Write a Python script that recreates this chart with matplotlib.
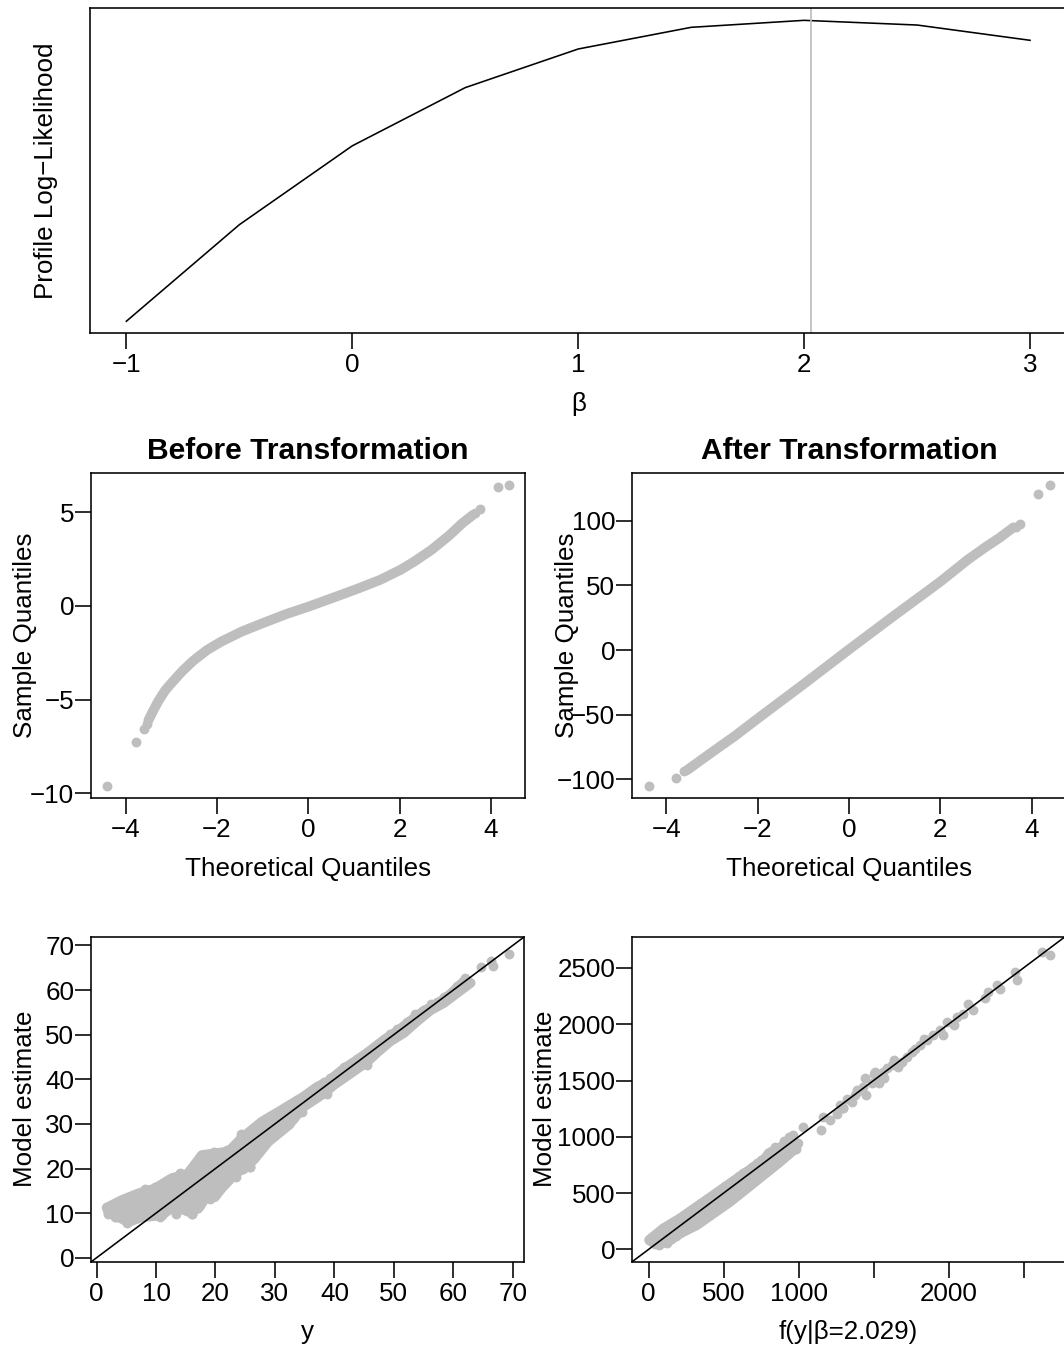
import matplotlib
matplotlib.use("Agg")
import matplotlib.pyplot as plt

# ---------------- data ----------------
beta_grid = [-1.0, -0.5, 0.0, 0.5, 1.0, 1.5, 2.0, 2.5, 3.0]
profile_ll = [-1501.4, -1404.7, -1325.7, -1267.4, -1228.7, -1207.0, -1200.0, -1204.7, -1220.0]
beta_hat = 2.029

# QQ before transformation: dense central run + isolated tail points
qq_before_band_x = [-3.50, -3.39, -3.28, -3.13, -2.97, -2.75, -2.52, -2.22, -1.91, -1.46, -1.01,
                    -0.48, 0.0, 0.51, 1.11, 1.57, 2.02, 2.32, 2.70, 3.08, 3.38, 3.61]
qq_before_band_y = [-6.11, -5.57, -5.07, -4.50, -4.05, -3.46, -2.93, -2.36, -1.91, -1.37, -0.93,
                    -0.43, -0.04, 0.41, 0.95, 1.39, 1.93, 2.37, 3.00, 3.75, 4.43, 4.87]
qq_before_pts_x = [-4.40, -3.78, -3.60, -3.53, 3.66, 3.76, 4.16, 4.40]
qq_before_pts_y = [-9.59, -7.27, -6.55, -6.30, 4.95, 5.18, 6.37, 6.48]

# QQ after transformation
qq_after_band_x = [-3.55, -3.0, -2.5, -2.0, -1.0, 0.0, 1.0, 2.0, 2.6, 3.0, 3.3, 3.6]
qq_after_band_y = [-93.0, -79.0, -66.5, -53.0, -26.5, 0.5, 27.0, 53.0, 70.0, 80.0, 87.0, 95.0]
qq_after_pts_x = [-4.39, -3.78, -3.61, 3.66, 3.75, 4.14, 4.40]
qq_after_pts_y = [-105.0, -99.2, -94.0, 95.5, 97.4, 121.0, 127.6]

# observed y vs model estimate (original scale): individual points
obs_y = [1.7, 2.0, 3.1, 3.9, 4.5, 5.3, 5.3, 5.9, 7.0, 6.7, 8.1, 8.4, 9.0, 9.8, 10.4, 10.7, 11.5, 12.3,
         12.9, 13.5, 14.0, 14.9, 15.4, 16.0, 15.7, 16.5, 17.7, 18.0, 18.5, 19.1, 19.6, 19.9, 20.5, 20.8,
         22.2, 22.2, 23.4, 24.4, 25.8, 24.4, 25.5, 26.6, 27.8, 28.9, 29.5, 31.1, 32.3, 33.4, 34.8, 34.5,
         1.9, 3.2, 4.1, 5.2, 5.5, 7.0, 8.1, 9.3, 9.9, 11.0, 11.6, 12.8, 13.4, 14.0, 15.7, 16.0, 17.4,
         18.6, 19.1, 18.6, 19.7, 20.0, 20.3, 22.0, 24.3, 24.3, 25.8, 27.8, 29.3, 29.0, 30.2, 29.6, 27.8,
         26.7, 25.5, 23.8, 23.2, 22.0, 21.5, 20.9, 24.3, 24.6, 22.6, 22.3, 20.3, 33.0, 31.9, 31.3,
         69.3, 66.3, 66.6, 64.7, 61.9, 62.3, 60.6, 59.5, 58.4, 57.3, 56.2, 55.0, 54.5, 53.6, 52.2, 50.5,
         49.4, 48.3, 47.7, 46.9, 46.1, 45.0, 43.8, 44.1, 45.5, 42.4, 41.6, 41.0, 39.3, 38.2, 37.6, 37.1,
         38.8, 35.8, 34.8, 33.7, 34.3, 32.9, 33.1]
est_y = [11.4, 10.3, 9.2, 11.0, 12.1, 12.9, 8.0, 9.7, 13.7, 9.2, 15.2, 11.4, 9.9, 15.5, 12.1, 9.2, 16.6, 13.7,
         17.8, 14.9, 18.9, 15.9, 18.9, 9.9, 12.1, 13.7, 22.6, 17.4, 15.2, 13.5, 23.0, 18.1, 15.2, 20.3,
         22.6, 19.2, 18.1, 20.3, 20.3, 27.1, 26.3, 24.1, 29.3, 27.8, 30.8, 31.5, 30.0, 33.8, 35.7, 32.7,
         9.9, 9.2, 10.7, 7.7, 12.9, 9.2, 15.5, 12.5, 15.8, 9.6, 16.6, 17.8, 9.9, 18.5, 19.6, 9.9, 11.8,
         15.8, 13.2, 22.6, 23.7, 17.3, 15.1, 23.0, 27.8, 20.0, 20.4, 26.3, 30.8, 31.6, 30.8, 29.0, 28.6,
         26.3, 27.5, 25.9, 24.1, 24.1, 23.0, 21.9, 21.9, 20.0, 20.4, 18.5, 17.4, 32.7, 31.6, 32.7,
         68.0, 66.6, 65.3, 65.2, 62.7, 61.5, 60.8, 59.2, 58.4, 57.3, 56.8, 55.5, 54.4, 54.7, 52.8, 51.3,
         50.2, 48.7, 48.0, 47.2, 46.5, 44.6, 44.6, 43.1, 43.1, 42.4, 42.8, 41.3, 40.2, 39.4, 38.7, 37.6,
         36.8, 36.4, 36.0, 35.3, 33.8, 33.1, 31.2]
# outline of the solid, overlapping part of that cloud (upper side left->right, lower side right->left)
cloud_y_x = [1.7, 4.2, 7.0, 9.8, 12.6, 15.4, 17.7, 19.9, 22.2, 24.4, 27.8, 31.1, 34.8, 37.1, 38.8,
             41.6, 43.8, 46.1, 48.3, 50.6, 52.8, 55.0, 57.3, 59.5, 61.8,
             62.9, 60.6, 58.4, 56.2, 53.9, 51.7, 49.4, 47.2, 45.5, 42.7, 39.9, 38.2, 34.8, 32.3, 28.9,
             26.6, 25.5, 23.3, 21.0, 19.9, 18.2, 17.1, 15.4, 13.2, 10.9, 7.6, 5.3, 2.0]
cloud_y_est = [11.2, 12.9, 14.4, 15.5, 17.8, 18.9, 23.0, 23.4, 23.8, 26.8, 30.5, 33.1, 36.1, 38.3, 39.4,
               42.4, 44.3, 46.5, 48.8, 50.8, 53.1, 55.3, 56.9, 59.1, 62.0,
               61.6, 59.3, 57.1, 55.5, 53.0, 50.4, 48.5, 46.0, 43.9, 41.3, 38.7, 36.8, 33.8, 29.7, 26.0,
               22.2, 20.7, 18.8, 15.5, 13.6, 13.2, 11.0, 10.3, 11.7, 9.5, 9.1, 8.0, 10.3]

# transformed y vs model estimate: individual points
fy = [5, 30, 60, 90, 120, 150, 180, 210, 240, 270, 300, 330, 360, 390, 420, 450, 480, 510, 540, 570,
      600, 630, 660, 690, 720, 750, 780, 800, 830, 860, 900, 940, 960,
      40, 100, 160, 220, 280, 340, 400, 460, 520, 580, 640, 700, 760, 820, 880,
      70, 120, 150, 180, 210, 240, 270, 300, 330, 360, 390, 420, 450, 480, 510, 540, 570, 600, 630,
      660, 690, 720, 750, 780, 810, 840, 870, 900, 930, 960, 975,
      2677, 2621, 2443, 2454, 2343, 2321, 2266, 2244, 2166, 2132, 2099, 2055, 2033, 1988, 1943, 1966,
      1899, 1855, 1833, 1810, 1777, 1755, 1721, 1688, 1666, 1633, 1621, 1588, 1566, 1510, 1543, 1488,
      1443, 1432, 1388, 1377, 1321, 1299, 1277,
      936, 981, 1027, 1151, 1208, 1162, 1254, 1299, 1356, 1390, 1447, 1503, 1537, 1571, 845, 799]
est_fy = [85, 110, 130, 165, 195, 225, 250, 275, 300, 335, 360, 390, 415, 445, 470, 500, 530, 565, 590, 620,
          650, 675, 700, 735, 765, 790, 820, 850, 870, 905, 960, 1000, 1020,
          45, 110, 165, 230, 285, 350, 410, 470, 530, 590, 650, 705, 770, 830, 880,
          40, 60, 90, 120, 150, 175, 205, 230, 260, 290, 320, 350, 380, 400, 430, 460, 490, 520, 550,
          580, 610, 640, 665, 690, 720, 760, 790, 820, 850, 880, 900,
          2613, 2642, 2465, 2391, 2317, 2347, 2288, 2229, 2125, 2178, 2095, 2066, 1991, 2021, 1946, 1902,
          1902, 1857, 1872, 1813, 1783, 1754, 1710, 1665, 1621, 1680, 1636, 1607, 1577, 1577, 1533, 1474,
          1518, 1444, 1414, 1370, 1340, 1252, 1281,
          1000, 896, 1089, 1060, 1148, 1178, 1207, 1252, 1311, 1400, 1370, 1562, 1474, 1518, 911, 852]
# outline of the solid band of overlapping points
band_fy_x = [5, 99, 210, 321, 432, 543, 655, 765, 810, 877, 930,
             999, 966, 877, 765, 655, 543, 432, 321, 210, 121, 40]
band_fy_est = [85, 187, 276, 379, 482, 586, 689, 793, 861, 903, 960,
               941, 881, 778, 659, 541, 422, 319, 215, 142, 61, 50]

fy_ticks = [0, 500, 1000, 1500, 2000, 2500]
fy_ticklabels = ["0", "500", "1000", "", "2000", ""]

# ---------------- style ----------------
W, H = 1064, 1349
DPI = 100
GREY = "#BEBEBE"
FS = 18.7
LW = 1.15
MS = 7.1          # marker diameter in points
FONT = ["Liberation Sans", "DejaVu Sans"]
plt.rcParams["font.family"] = FONT
plt.rcParams["axes.unicode_minus"] = True

fig = plt.figure(figsize=(W / DPI, H / DPI), dpi=DPI)


def px_axes(l, t, r, b):
    ax = fig.add_axes([l / W, 1 - b / H, (r - l) / W, (b - t) / H])
    for s in ax.spines.values():
        s.set_linewidth(LW)
        s.set_color("black")
    ax.tick_params(direction="out", length=15.6 * 72 / DPI, width=LW, labelsize=FS,
                   color="black", labelcolor="black")
    ax.tick_params(axis="x", pad=4.4 * 72 / DPI)
    ax.tick_params(axis="y", pad=1.4 * 72 / DPI)
    return ax


def xlabel_px(x, y, s):
    fig.text(x / W, 1 - y / H, s, ha="center", va="baseline", fontsize=FS)


def ylabel_px(x, y, s):
    fig.text(x / W, 1 - y / H, s, ha="center", va="baseline", rotation=90,
             rotation_mode="anchor", fontsize=FS)


def band(ax, xs, ys):
    ax.fill(xs, ys, facecolor=GREY, edgecolor=GREY, linewidth=MS, joinstyle="round", zorder=2)


# ---- top: profile log-likelihood ----
box = (90.2, 8.3, 1066.2, 333.3)
ax0 = px_axes(*box)
ax0.plot(beta_grid, profile_ll, color="black", lw=LW)
ax0.axvline(beta_hat, color=GREY, lw=LW * 1.1)
ax0.set_xlim(-1.16, 3.16)
rng = max(profile_ll) - min(profile_ll)
ax0.set_ylim(min(profile_ll) - 0.04 * rng, max(profile_ll) + 0.04 * rng)
ax0.set_xticks([-1, 0, 1, 2, 3])
ax0.set_yticks([])
xlabel_px((box[0] + box[2]) / 2, box[3] + 78, "β")
ylabel_px(52.6, (box[1] + box[3]) / 2, "Profile Log\u2212Likelihood")

# ---- middle left: QQ before ----
box = (91.3, 472.7, 525.1, 797.7)
ax1 = px_axes(*box)
ax1.plot(qq_before_band_x, qq_before_band_y, color=GREY, lw=MS, solid_capstyle="round",
         solid_joinstyle="round")
ax1.scatter(qq_before_pts_x, qq_before_pts_y, s=MS ** 2, color=GREY, linewidths=0)
ax1.set_xlim(-4.75, 4.75)
ax1.set_ylim(-10.24, 7.12)
ax1.set_xticks([-4, -2, 0, 2, 4])
ax1.set_yticks([-10, -5, 0, 5])
fig.text((box[0] + box[2]) / 2 / W, 1 - 459 / H, "Before Transformation", ha="center",
         va="baseline", fontsize=21.6, fontweight="bold")
xlabel_px((box[0] + box[2]) / 2, box[3] + 78, "Theoretical Quantiles")
ylabel_px(32.4, (box[1] + box[3]) / 2, "Sample Quantiles")

# ---- middle right: QQ after ----
box = (632.2, 472.7, 1066.0, 797.7)
ax2 = px_axes(*box)
ax2.plot(qq_after_band_x, qq_after_band_y, color=GREY, lw=MS, solid_capstyle="round",
         solid_joinstyle="round")
ax2.scatter(qq_after_pts_x, qq_after_pts_y, s=MS ** 2, color=GREY, linewidths=0)
ax2.set_xlim(-4.75, 4.75)
ax2.set_ylim(-114.3, 137.3)
ax2.set_xticks([-4, -2, 0, 2, 4])
ax2.set_yticks([-100, -50, 0, 50, 100])
fig.text((box[0] + box[2]) / 2 / W, 1 - 459 / H, "After Transformation", ha="center",
         va="baseline", fontsize=21.6, fontweight="bold")
xlabel_px((box[0] + box[2]) / 2, box[3] + 78, "Theoretical Quantiles")
ylabel_px(574.0, (box[1] + box[3]) / 2, "Sample Quantiles")

# ---- bottom left: y vs estimate ----
box = (91.3, 936.7, 524.4, 1261.7)
ax3 = px_axes(*box)
band(ax3, cloud_y_x, cloud_y_est)
ax3.scatter(obs_y, est_y, s=MS ** 2, color=GREY, linewidths=0, zorder=3)
ax3.axline((0, 0), slope=1, color="black", lw=LW, zorder=4)
ax3.set_xlim(-0.88, 71.95)
ax3.set_ylim(-0.88, 71.95)
ax3.set_xticks(range(0, 71, 10))
ax3.set_yticks(range(0, 71, 10))
xlabel_px((box[0] + box[2]) / 2, box[3] + 77, "y")
ylabel_px(32.4, (box[1] + box[3]) / 2, "Model estimate")

# ---- bottom right: f(y) vs estimate ----
box = (632.2, 936.7, 1065.1, 1261.7)
ax4 = px_axes(*box)
band(ax4, band_fy_x, band_fy_est)
ax4.scatter(fy, est_fy, s=MS ** 2, color=GREY, linewidths=0, zorder=3)
ax4.axline((0, 0), slope=1, color="black", lw=LW, zorder=4)
ax4.set_xlim(-109, 2777)
ax4.set_ylim(-109, 2777)
ax4.set_xticks(fy_ticks)
ax4.set_xticklabels(fy_ticklabels)
ax4.set_yticks([0, 500, 1000, 1500, 2000, 2500])
xlabel_px((box[0] + box[2]) / 2, box[3] + 77, f"f(y|β={beta_hat})")
ylabel_px(552.0, (box[1] + box[3]) / 2, "Model estimate")

fig.savefig("out.png", dpi=DPI)
